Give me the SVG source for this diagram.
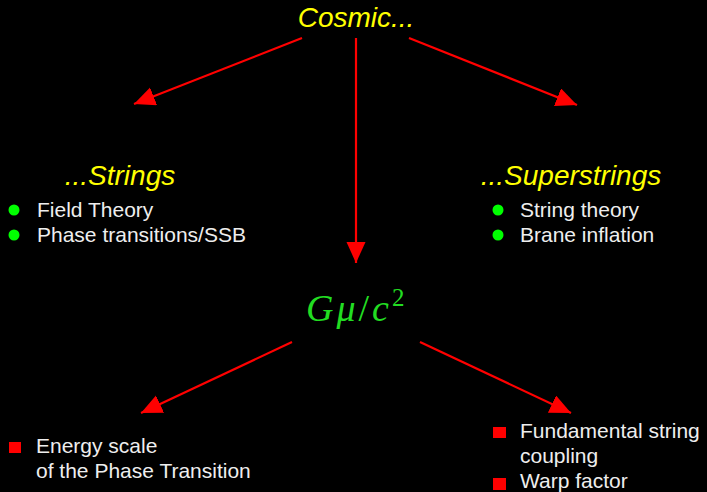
<svg xmlns="http://www.w3.org/2000/svg" width="707" height="492" viewBox="0 0 707 492">
  <style>
    .title { font-family: "Liberation Sans", Arial, sans-serif; font-style: italic; font-size: 28px; fill: #ffff00; }
    .item { font-family: "Liberation Sans", Arial, sans-serif; font-size: 21px; fill: #eeeeee; }
    .math { font-family: "Liberation Serif", "DejaVu Serif", serif; font-size: 38px; fill: #22dd22; letter-spacing: 3px; }
    .conn { stroke: #ff0000; stroke-width: 2.2; fill: none; marker-end: url(#ah); }
    .gb { fill: #00ff00; }
    .rb { fill: #ff0000; }
  </style>
  <defs>
    <marker id="ah" markerUnits="userSpaceOnUse" markerWidth="22" markerHeight="20" refX="21" refY="9.5" orient="auto" viewBox="0 0 22 20">
      <path d="M0,0 L21,9.5 L0,19 z" fill="#ff0000"/>
    </marker>
  </defs>
  <rect width="707" height="492" fill="#000000"/>
  <g id="connectors">
    <line class="conn" x1="302" y1="38" x2="134" y2="104"/>
    <line class="conn" x1="356" y1="38" x2="356" y2="263"/>
    <line class="conn" x1="409" y1="38" x2="577" y2="105"/>
    <line class="conn" x1="292" y1="342" x2="141" y2="413"/>
    <line class="conn" x1="420" y1="342" x2="571" y2="413"/>
  </g>
  <g id="cosmic">
    <text class="title" x="356" y="27" text-anchor="middle">Cosmic...</text>
  </g>
  <g id="strings">
    <text class="title" x="120" y="185" text-anchor="middle">...Strings</text>
    <circle class="gb" cx="14" cy="210" r="5.5"/>
    <circle class="gb" cx="14" cy="235" r="5.5"/>
    <text class="item" x="37" y="217">Field Theory</text>
    <text class="item" x="37" y="242">Phase transitions/SSB</text>
  </g>
  <g id="superstrings">
    <text class="title" x="571" y="185" text-anchor="middle">...Superstrings</text>
    <circle class="gb" cx="498" cy="210" r="5.5"/>
    <circle class="gb" cx="498" cy="235" r="5.5"/>
    <text class="item" x="520" y="217">String theory</text>
    <text class="item" x="520" y="242">Brane inflation</text>
  </g>
  <g id="gmu">
    <text class="math" x="306" y="321"><tspan font-style="italic">Gμ</tspan><tspan>/</tspan><tspan font-style="italic">c</tspan><tspan font-size="25px" dy="-15">2</tspan></text>
  </g>
  <g id="energy">
    <rect class="rb" x="9" y="442" width="12" height="11"/>
    <text class="item" x="36" y="453">Energy scale</text>
    <text class="item" x="36" y="478">of the Phase Transition</text>
  </g>
  <g id="coupling">
    <rect class="rb" x="493" y="427" width="13" height="11"/>
    <text class="item" x="520" y="438">Fundamental string</text>
    <text class="item" x="520" y="463">coupling</text>
    <rect class="rb" x="493" y="478" width="13" height="12"/>
    <text class="item" x="520" y="488">Warp factor</text>
  </g>
</svg>
